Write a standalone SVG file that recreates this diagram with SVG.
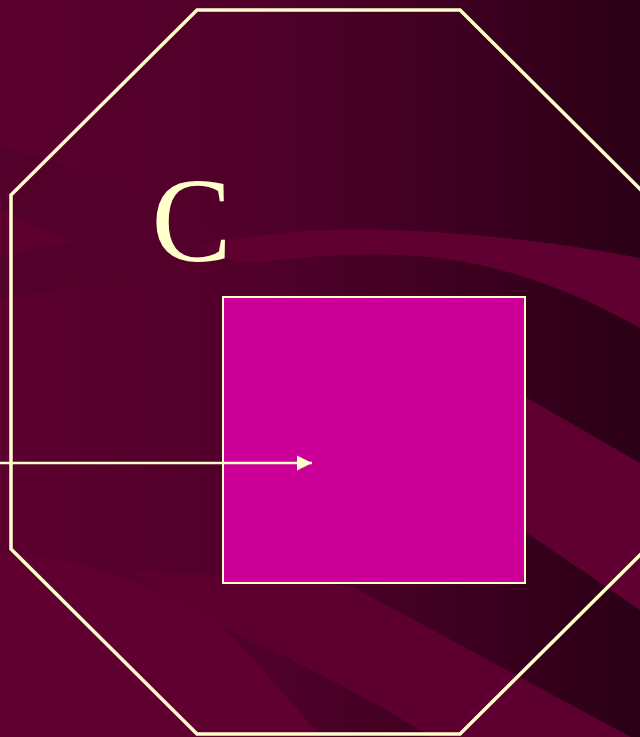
<svg xmlns="http://www.w3.org/2000/svg" width="640" height="737" viewBox="0 0 640 737">
  <defs>
    <linearGradient id="bg" x1="0" y1="0" x2="640" y2="0" gradientUnits="userSpaceOnUse">
      <stop offset="0" stop-color="#5C002F"/>
      <stop offset="0.4" stop-color="#50002A"/>
      <stop offset="0.75" stop-color="#3C001F"/>
      <stop offset="1" stop-color="#2B0016"/>
    </linearGradient>
    <marker id="arrow" markerUnits="userSpaceOnUse" markerWidth="16" markerHeight="16" viewBox="0 0 16 16" refX="15" refY="8" orient="auto">
      <path d="M0,0.5 L15,8 L0,15.5 Z" fill="#FFFFCC"/>
    </marker>
    <style>
      .band { fill: #600031; }
      .dark { fill: #53002A; }
      .outline { fill: none; stroke: #FFFFCC; stroke-width: 3.5; stroke-linejoin: miter; }
      .box { fill: #CC0099; stroke: #FFFFCC; stroke-width: 2; }
      .label { font-family: "Liberation Serif", "Times New Roman", serif; font-size: 120px; fill: #FFFFCC; }
      .conn { fill: none; stroke: #FFFFCC; stroke-width: 2.7; }
    </style>
  </defs>

  <g id="background">
    <rect x="0" y="0" width="640" height="737" fill="url(#bg)"/>
    <path class="dark" d="M0,145 C80,170 180,215 250,243 L250,265 C180,272 80,285 0,300 Z"/>
    <path fill="#5D0030" d="M0,210 L72,242 L0,256 Z"/>
    <path class="band" d="M200,246 C260,232 330,228 390,230 C480,233 560,243 640,258 L640,328 C590,300 520,268 440,258 C360,250 300,258 260,262 C235,264 215,256 200,246 Z"/>
    <path class="band" d="M480,370 L527,398 L640,463 L640,610 L527,533 L480,505 Z"/>
    <path fill="#5D0030" d="M130,570 C200,575 300,580 353,587 L640,742 L430,737 C400,715 300,662 200,617 C170,600 150,585 130,570 Z"/>
    <path class="band" d="M0,552 C90,558 160,590 220,625 C260,665 290,700 320,737 L0,737 Z"/>
  </g>

  <g id="octagon">
    <polygon class="outline" points="197,10 460,10 646,195 646,549 460,734 197,734 11,549 11,195"/>
  </g>

  <g id="label-c">
    <text class="label" x="151.5" y="260.5">C</text>
  </g>

  <g id="box">
    <rect class="box" x="223" y="297" width="302" height="286"/>
  </g>

  <g id="connectors">
    <line class="conn" x1="0" y1="463" x2="312" y2="463" marker-end="url(#arrow)"/>
  </g>
</svg>
